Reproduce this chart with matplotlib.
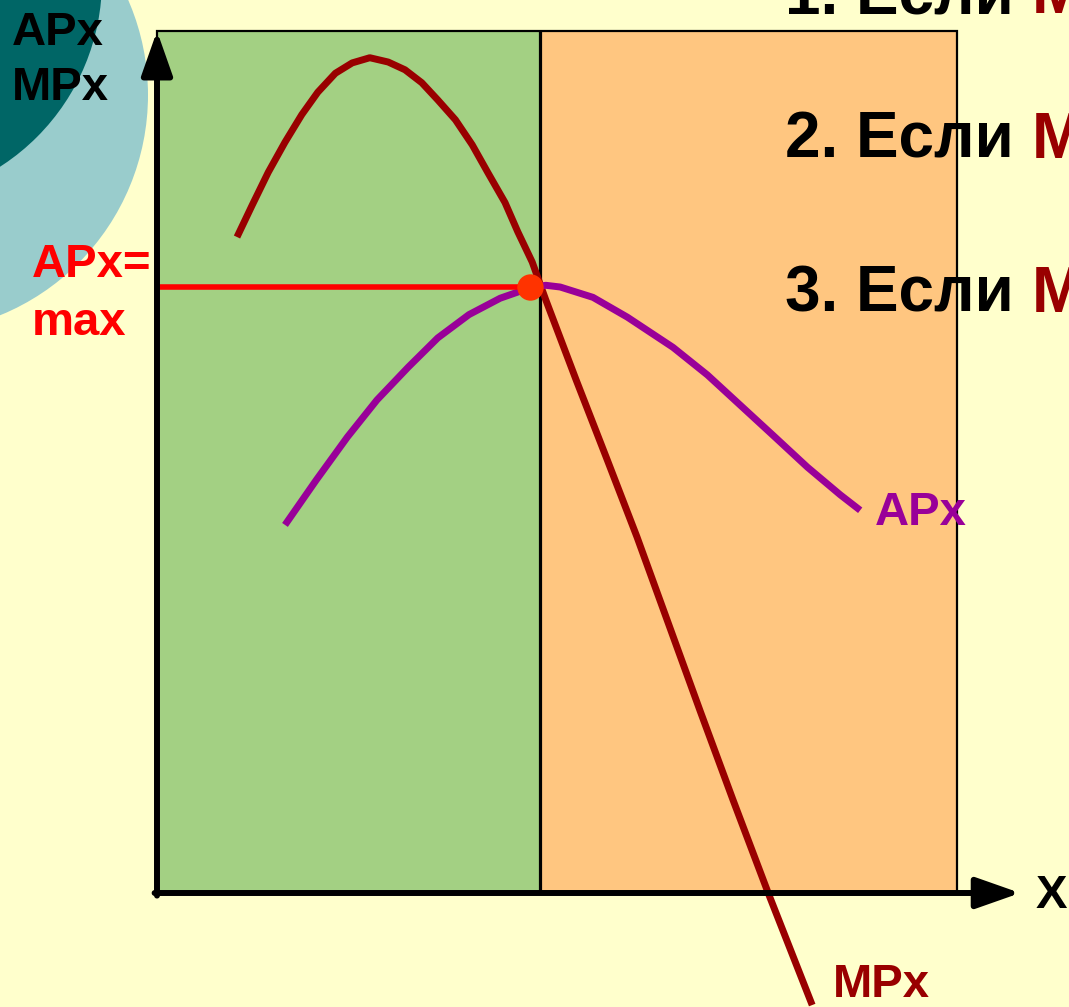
import matplotlib
matplotlib.use('Agg')
import matplotlib.pyplot as plt
from matplotlib.patches import Circle, Rectangle

plt.rcParams['font.family'] = ['Liberation Sans', 'DejaVu Sans']
plt.rcParams['font.weight'] = 'bold'

# Кривая предельного продукта MPx (ось X: 0..10, ось Y: 0..10)
x_mp = [1.00, 1.19, 1.39, 1.60, 1.81, 2.01, 2.23, 2.44, 2.66, 2.89, 3.10,
        3.31, 3.51, 3.73, 3.94, 4.14, 4.35, 4.51, 4.69, 4.86, 5.24, 5.63,
        6.00, 6.79, 7.20, 7.64, 8.19]
y_mp = [7.61, 7.98, 8.36, 8.71, 9.03, 9.29, 9.51, 9.63, 9.69, 9.64, 9.55,
        9.40, 9.20, 8.97, 8.68, 8.35, 8.01, 7.67, 7.32, 6.88, 5.95, 5.02,
        4.13, 2.11, 1.08, 0.00, -1.30]

# Кривая среднего продукта APx
x_ap = [1.60, 1.99, 2.38, 2.75, 3.14, 3.51, 3.90, 4.29, 4.66, 4.86, 5.04,
        5.45, 5.88, 6.45, 6.88, 7.29, 7.70, 8.13, 8.54, 8.79]
y_ap = [4.27, 4.79, 5.29, 5.72, 6.10, 6.44, 6.71, 6.90, 7.02, 7.05, 7.03,
        6.91, 6.68, 6.33, 6.01, 5.66, 5.31, 4.94, 4.62, 4.44]

x_split = 4.79   # граница зон
ap_max = 7.03    # APx = max
x_dot = 4.66

rules = ['1. Если ', '2. Если ', '3. Если ']

W, H = 1069, 1007
fig = plt.figure(figsize=(W / 100, H / 100), dpi=100)
fig.patch.set_facecolor('#FFFFCC')

# фон в пикселях
bg = fig.add_axes([0, 0, 1, 1])
bg.set_xlim(0, W)
bg.set_ylim(H, 0)
bg.axis('off')
bg.add_patch(Circle((-90, 95), 238, color='#99CCCC', lw=0))
bg.add_patch(Circle((-120, -20), 222, color='#006666', lw=0))

bg.text(12, 45, 'APx', fontsize=34, color='black')
bg.text(12, 100, 'MPx', fontsize=34, color='black')
bg.text(32, 277, 'APx=', fontsize=34, color='#FF0000')
bg.text(32, 335, 'max', fontsize=34, color='#FF0000')

ax = fig.add_axes([157 / W, (H - 893) / H, 800 / W, 862 / H])
ax.set_xlim(0, 10)
ax.set_ylim(0, 10)
ax.axis('off')

ax.axvspan(0, x_split, color='#A3D083', lw=0, zorder=1)
ax.axvspan(x_split, 10, color='#FFC680', lw=0, zorder=1)

# текст правил (поверх заливки, под рамкой)
for base, s in zip([13, 158, 312], rules):
    t = ax.text(785, base, s, transform=bg.transData, fontsize=46,
                color='black', va='baseline', zorder=2, clip_on=False)
    ax.annotate('M', xy=(1, 0), xycoords=t, fontsize=46, color='#990000',
                va='bottom', ha='left', zorder=2, annotation_clip=False)

ax.add_patch(Rectangle((0, 0), 10, 10, fill=False, ec='black', lw=1.6,
                       zorder=3, clip_on=False))
ax.plot([x_split, x_split], [0, 10], color='black', lw=2.3, zorder=3)

ax.plot(x_mp, y_mp, color='#990000', lw=5, zorder=4, clip_on=False,
        solid_capstyle='butt', solid_joinstyle='round')
ax.plot(x_ap, y_ap, color='#990099', lw=5, zorder=4, clip_on=False,
        solid_capstyle='butt', solid_joinstyle='round')
ax.plot([0, x_split], [ap_max, ap_max], color='#FF0000', lw=4, zorder=5,
        solid_capstyle='butt')
ax.plot([x_dot], [ap_max], 'o', ms=19, color='#FF3300', mec='none', zorder=6)

# оси со стрелками
arrow = dict(arrowstyle='-|>,head_length=27,head_width=9.5', mutation_scale=1,
             lw=4.3, color='black', shrinkA=0, shrinkB=0)
ax.annotate('', xy=(0, 10.0), xytext=(0, -0.03), arrowprops=arrow,
            annotation_clip=False, zorder=7)
ax.annotate('', xy=(10.79, 0), xytext=(-0.03, 0), arrowprops=arrow,
            annotation_clip=False, zorder=7)

# подписи кривых и оси X
for px, py, s, c in [(1036, 908, 'X', 'black'), (875, 525, 'APx', '#990099'),
                     (833, 997, 'MPx', '#990000')]:
    ax.text(px, py, s, transform=bg.transData, fontsize=34, color=c,
            zorder=8, clip_on=False)

fig.savefig('out.png', dpi=100, facecolor=fig.get_facecolor())
